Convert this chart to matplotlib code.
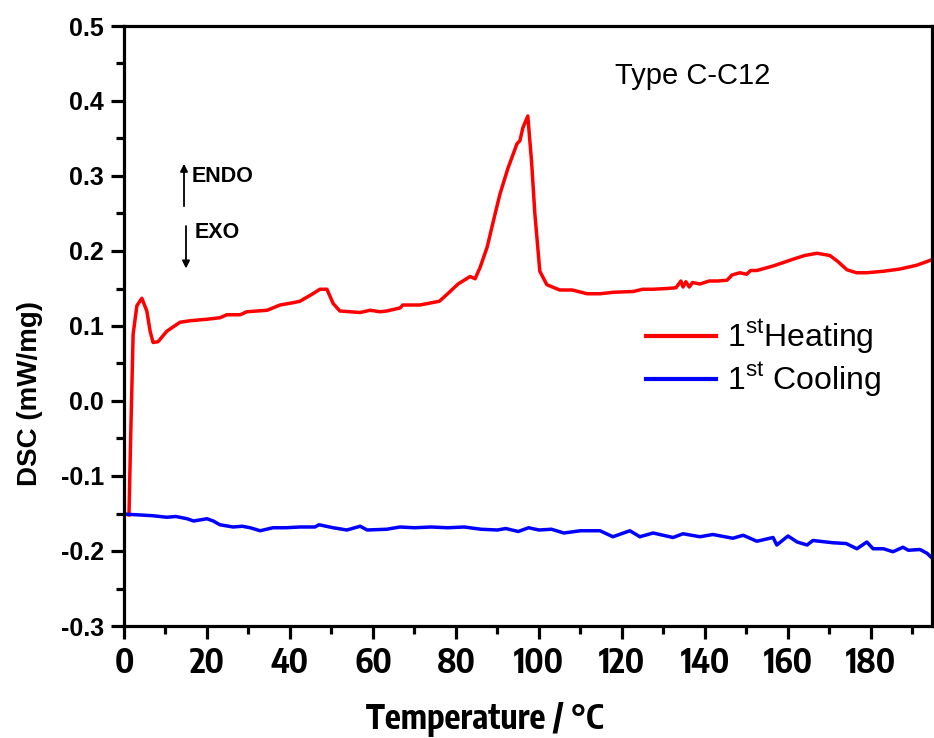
import numpy as np
import matplotlib
matplotlib.use("Agg")
import matplotlib.pyplot as plt
from matplotlib.ticker import MultipleLocator, FormatStrFormatter

plt.rcParams['axes.unicode_minus'] = False
plt.rcParams['mathtext.fontset'] = 'custom'
plt.rcParams['mathtext.rm'] = 'Liberation Sans'

NARROW = ['Liberation Sans Narrow', 'Encode Sans Condensed']

# 1st heating (temperature in C, DSC in mW/mg)
heat_t = [1.2, 1.6, 2.2, 3.1, 4.3, 5.5, 6.3, 7.0, 8.2, 10.3, 13.5, 15.9, 20.0, 23.1,
          24.8, 28.0, 29.6, 34.5, 37.6, 40.7, 42.4, 45.5, 47.2, 48.9, 50.4, 52.0,
          56.9, 59.3, 61.7, 63.3, 66.5, 67.2, 71.3, 76.0, 77.8, 80.5, 83.4, 84.6,
          85.8, 87.5, 89.4, 90.6, 92.5, 94.7, 95.4, 96.1, 97.3, 98.2, 99.0, 100.2,
          101.9, 105.0, 108.0, 111.6, 114.7, 118.0, 122.7, 125.0, 127.5, 130.8,
          133.0, 134.2, 134.7, 135.4, 136.2, 137.0, 138.8, 141.0, 143.0, 145.3,
          146.5, 148.4, 150.0, 151.0, 152.5, 156.4, 161.2, 164.0, 167.0, 170.1,
          172.0, 174.2, 176.5, 179.0, 183.0, 187.0, 191.0, 195.0]
heat_v = [-0.152, -0.05, 0.089, 0.127, 0.137, 0.120, 0.093, 0.078, 0.079, 0.093,
          0.105, 0.107, 0.109, 0.111, 0.115, 0.115, 0.119, 0.121, 0.128, 0.131,
          0.133, 0.143, 0.149, 0.149, 0.130, 0.120, 0.118, 0.121, 0.119, 0.120,
          0.124, 0.128, 0.128, 0.133, 0.142, 0.156, 0.166, 0.163, 0.178, 0.205,
          0.249, 0.276, 0.310, 0.343, 0.347, 0.364, 0.380, 0.320, 0.250, 0.173,
          0.155, 0.148, 0.148, 0.143, 0.143, 0.145, 0.146, 0.149, 0.149, 0.150,
          0.151, 0.160, 0.152, 0.159, 0.152, 0.158, 0.156, 0.160, 0.160, 0.161,
          0.168, 0.171, 0.169, 0.174, 0.174, 0.180, 0.189, 0.194, 0.197, 0.194,
          0.186, 0.175, 0.171, 0.171, 0.173, 0.176, 0.181, 0.189]

# 1st cooling
cool_t = [0.7, 4.0, 7.0, 10.3, 12.5, 15.2, 16.8, 20.0, 21.5, 23.1, 26.3, 28.5, 30.4,
          32.8, 35.9, 39.0, 42.4, 46.0, 47.0, 50.4, 53.7, 56.9, 58.6, 63.3, 66.5,
          70.0, 74.0, 78.0, 82.0, 86.0, 90.0, 92.0, 95.0, 97.5, 100.0, 103.0,
          106.0, 110.0, 114.7, 117.8, 121.9, 124.3, 127.5, 132.3, 134.7, 138.8,
          141.9, 146.7, 149.2, 152.5, 156.4, 157.3, 160.0, 162.2, 164.6, 166.0,
          170.8, 174.0, 176.6, 179.0, 180.5, 183.0, 185.3, 187.7, 189.0, 191.8,
          193.5, 195.0]
cool_v = [-0.151, -0.152, -0.153, -0.155, -0.154, -0.157, -0.160, -0.157, -0.160,
          -0.165, -0.168, -0.167, -0.169, -0.173, -0.169, -0.169, -0.168, -0.168,
          -0.165, -0.169, -0.172, -0.167, -0.172, -0.171, -0.168, -0.169, -0.168,
          -0.169, -0.168, -0.171, -0.172, -0.170, -0.174, -0.169, -0.172, -0.171,
          -0.176, -0.173, -0.173, -0.181, -0.173, -0.181, -0.176, -0.182, -0.177,
          -0.181, -0.178, -0.183, -0.179, -0.187, -0.182, -0.192, -0.180, -0.188,
          -0.192, -0.186, -0.189, -0.190, -0.197, -0.188, -0.197, -0.197, -0.201,
          -0.195, -0.199, -0.198, -0.203, -0.211]

fig = plt.figure(figsize=(9.34, 7.38), dpi=100)
ax = fig.add_axes([124 / 934, 1 - 626 / 738, 808 / 934, 600 / 738])

ax.plot(heat_t, heat_v, color='#ff0000', lw=2.5, label=r'1$^{\rm st}$Heating')
ax.plot(cool_t, cool_v, color='#0000ff', lw=2.5, label=r'1$^{\rm st}$ Cooling')

ax.set_xlim(0, 194.7)
ax.set_ylim(-0.3, 0.5)
ax.xaxis.set_major_locator(MultipleLocator(20))
ax.xaxis.set_minor_locator(MultipleLocator(10))
ax.yaxis.set_major_locator(MultipleLocator(0.1))
ax.yaxis.set_minor_locator(MultipleLocator(0.05))
ax.yaxis.set_major_formatter(FormatStrFormatter('%.1f'))

for s in ax.spines.values():
    s.set_linewidth(2.3)
ax.tick_params(which='major', direction='out', length=9.5, width=2.3, pad=5)
ax.tick_params(which='minor', direction='out', length=5.5, width=2.3)
ax.tick_params(top=False, right=False, which='both')

for lab in ax.get_xticklabels():
    lab.set_fontfamily(NARROW)
    lab.set_fontweight('bold')
    lab.set_fontsize(24)
for lab in ax.get_yticklabels():
    lab.set_fontfamily('Liberation Sans')
    lab.set_fontweight('bold')
    lab.set_fontsize(18)

ax.set_xlabel('Temperature / °C', fontfamily=NARROW, fontweight='bold', fontsize=24)
ax.xaxis.set_label_coords(0.447, -0.126)
ax.set_ylabel('DSC (mW/mg)', fontfamily='Liberation Sans', fontweight='bold', fontsize=20)
ax.yaxis.set_label_coords(-0.100, 0.388)

ax.text(0.608, 0.917, 'Type C-C12', transform=ax.transAxes, fontfamily='Liberation Sans',
        fontsize=21, va='center', ha='left')

ax.annotate('', xy=(14.46, 0.320), xytext=(14.46, 0.256),
            arrowprops=dict(arrowstyle='-|>', lw=1.3, color='black', mutation_scale=11))
ax.text(16.2, 0.299, 'ENDO', fontfamily='Liberation Sans', fontweight='bold',
        fontsize=15.5, va='center')
ax.annotate('', xy=(14.94, 0.173), xytext=(14.94, 0.237),
            arrowprops=dict(arrowstyle='-|>', lw=1.3, color='black', mutation_scale=11))
ax.text(17.0, 0.224, 'EXO', fontfamily='Liberation Sans', fontweight='bold',
        fontsize=15.5, va='center')

leg = ax.legend(loc='upper left', bbox_to_anchor=(0.63, 0.535), frameon=False,
                prop={'family': 'Liberation Sans', 'size': 23}, handlelength=2.2,
                handletextpad=0.35, labelspacing=0.15, borderaxespad=0)
for line in leg.get_lines():
    line.set_linewidth(3)

fig.savefig('out.png', dpi=100)
